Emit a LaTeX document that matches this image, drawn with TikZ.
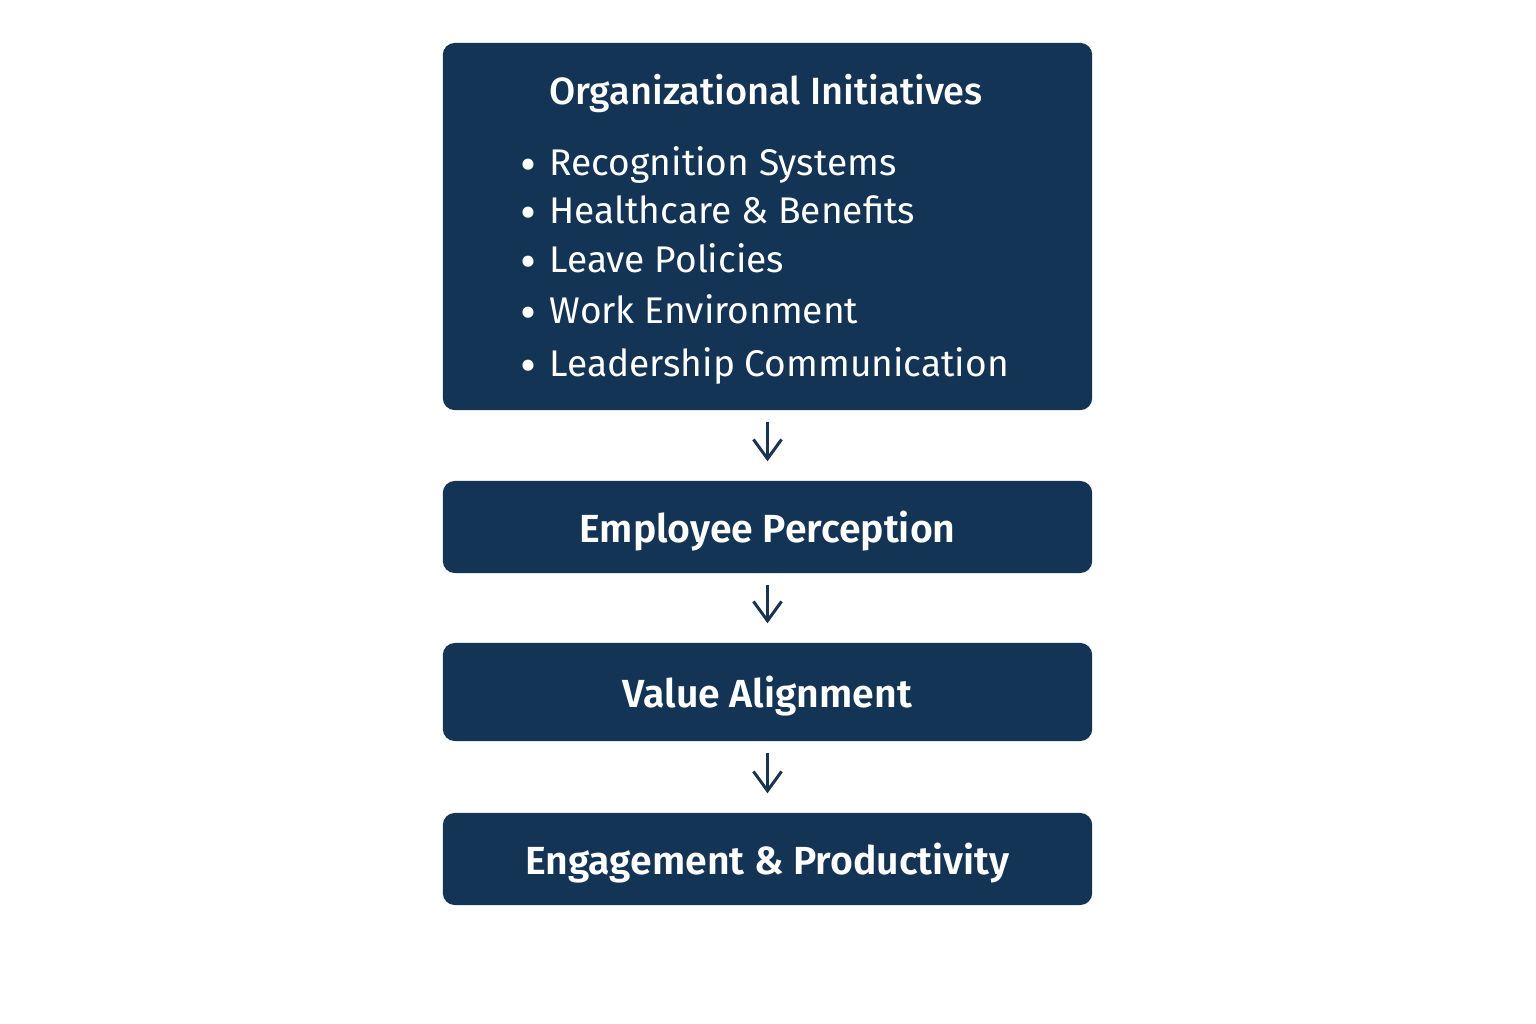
\documentclass[tikz,border=0pt]{standalone}
\usepackage{fontspec}
\setmainfont{Fira Sans}[BoldFont={Fira Sans SemiBold}]
\newfontfamily\mediumfont{Fira Sans Medium}
\usetikzlibrary{arrows.meta,positioning}
\definecolor{navy}{HTML}{143456}
\definecolor{arrowblue}{HTML}{1B3352}
\tikzset{
	stagebox/.style={fill=navy, rounded corners=3.4pt, minimum width=6.49cm, inner sep=0pt},
	stagetext/.style={text=white, yshift=-1.2pt, font=\bfseries\fontsize{11.15}{13}\selectfont},
	itemtext/.style={text=white, anchor=base west, inner sep=0pt, font=\fontsize{10.55}{13}\selectfont},
	flow/.style={draw=arrowblue, line width=0.85pt, -{Straight Barb[length=5.5pt, width=8pt]}, shorten <=3.1pt, shorten >=5.4pt}
}
\begin{document}
\begin{tikzpicture}[x=0.01cm, y=-0.01cm]
	\useasboundingbox (0,0) rectangle (1536,1024);
	% boxes
	\node[stagebox, minimum height=3.67cm] (init) at (767.5,226.5) {};
	\node[stagebox, minimum height=0.92cm] (percep) at (767.5,527) {};
	\node[stagebox, minimum height=0.98cm] (value) at (767.5,692) {};
	\node[stagebox, minimum height=0.92cm] (engage) at (767.5,859) {};
	% labels
	\node[text=white, anchor=base, inner sep=0pt, font=\mediumfont\fontsize{10.8}{12}\selectfont] (title) at (766,104) {Organizational Initiatives};
	\node[stagetext] at (percep) {Employee Perception};
	\node[stagetext] at (value) {Value Alignment};
	\node[stagetext] at (engage) {Engagement \& Productivity};
	% items
	\foreach \y/\txt [count=\i] in {175/Recognition Systems, 223/Healthcare \& Benefits, 272/Leave Policies, 323/Work Environment, 376/Leadership Communication}
		\node[itemtext] (item\i) at (549,\y) {\llap{\raisebox{-1.8pt}{\fontsize{14}{14}\selectfont\textbullet}\hspace{3.8pt}}\txt};
	% arrows
	\draw[flow] (init) -- (percep);
	\draw[flow] (percep) -- (value);
	\draw[flow] (value) -- (engage);
\end{tikzpicture}
\end{document}
